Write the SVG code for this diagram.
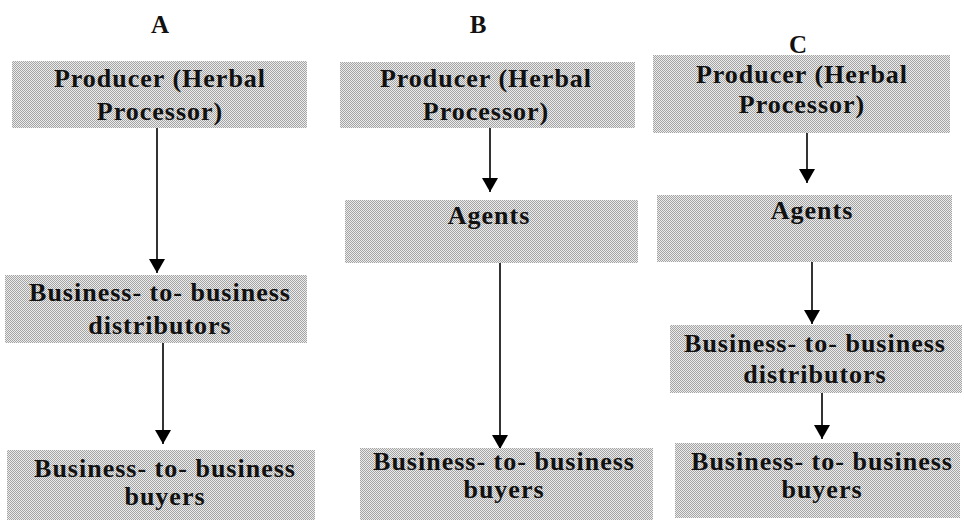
<svg xmlns="http://www.w3.org/2000/svg" width="964" height="523" viewBox="0 0 964 523">
  <defs>
    <!-- halftone grey fill used by every box -->
    <pattern id="dots" x="0" y="0" width="2" height="2" patternUnits="userSpaceOnUse">
      <rect width="2" height="2" fill="#ececec" shape-rendering="crispEdges"/>
      <rect x="0" y="0" width="1" height="1" fill="#a4a4a4" shape-rendering="crispEdges"/>
      <rect x="1" y="1" width="1" height="1" fill="#a4a4a4" shape-rendering="crispEdges"/>
    </pattern>
    <marker id="arrow" markerUnits="userSpaceOnUse" markerWidth="15" markerHeight="16" refX="14" refY="8" orient="auto" viewBox="0 0 15 16">
      <path d="M0,0 L14,8 L0,16 Z" fill="#000"/>
    </marker>
  </defs>
  <style>
    .box { fill: url(#dots); shape-rendering: crispEdges; }
    .lbl { font-family: "Liberation Serif", "DejaVu Serif", "Times New Roman", serif; font-weight: bold; font-size: 26px; letter-spacing: 1px; fill: #111; text-anchor: middle; }
    .ttl { font-family: "Liberation Serif", "DejaVu Serif", "Times New Roman", serif; font-weight: bold; font-size: 25px; fill: #111; text-anchor: middle; }
    .edge { stroke: #000; stroke-width: 1.6; fill: none; }
  </style>
  <rect width="964" height="523" fill="#fff"/>

  <!-- column headings -->
  <g id="titles">
    <text class="ttl" x="160" y="33" font-family="Liberation Serif, serif">A</text>
    <text class="ttl" x="478" y="33" font-family="Liberation Serif, serif">B</text>
    <text class="ttl" x="798" y="53" font-family="Liberation Serif, serif">C</text>
  </g>

  <!-- connectors -->
  <g id="connectors">
    <line class="edge" x1="157" y1="128" x2="157" y2="273" marker-end="url(#arrow)"/>
    <line class="edge" x1="163" y1="343" x2="163" y2="444" marker-end="url(#arrow)"/>
    <line class="edge" x1="490" y1="128" x2="490" y2="192" marker-end="url(#arrow)"/>
    <line class="edge" x1="500" y1="263" x2="500" y2="449" marker-end="url(#arrow)"/>
    <line class="edge" x1="807" y1="133" x2="807" y2="183" marker-end="url(#arrow)"/>
    <line class="edge" x1="812" y1="262" x2="812" y2="324" marker-end="url(#arrow)"/>
    <line class="edge" x1="822" y1="393" x2="822" y2="439" marker-end="url(#arrow)"/>
  </g>

  <!-- column A -->
  <g id="a-producer">
    <rect class="box" x="12" y="61" width="295" height="67"/>
    <text class="lbl" x="160" y="87">Producer (Herbal</text>
    <text class="lbl" x="160" y="120">Processor)</text>
  </g>
  <g id="a-distributors">
    <rect class="box" x="5" y="275" width="302" height="68"/>
    <text class="lbl" x="160" y="301">Business- to- business</text>
    <text class="lbl" x="160" y="334">distributors</text>
  </g>
  <g id="a-buyers">
    <rect class="box" x="7" y="450" width="308" height="70"/>
    <text class="lbl" x="165" y="477">Business- to- business</text>
    <text class="lbl" x="165" y="505">buyers</text>
  </g>

  <!-- column B -->
  <g id="b-producer">
    <rect class="box" x="340" y="62" width="295" height="66"/>
    <text class="lbl" x="486" y="87">Producer (Herbal</text>
    <text class="lbl" x="486" y="120">Processor)</text>
  </g>
  <g id="b-agents">
    <rect class="box" x="345" y="200" width="293" height="63"/>
    <text class="lbl" x="489" y="224">Agents</text>
  </g>
  <g id="b-buyers">
    <rect class="box" x="360" y="448" width="293" height="72"/>
    <text class="lbl" x="504" y="470">Business- to- business</text>
    <text class="lbl" x="504" y="498">buyers</text>
  </g>

  <!-- column C -->
  <g id="c-producer">
    <rect class="box" x="653" y="55" width="297" height="78"/>
    <text class="lbl" x="802" y="83">Producer (Herbal</text>
    <text class="lbl" x="802" y="113">Processor)</text>
  </g>
  <g id="c-agents">
    <rect class="box" x="657" y="195" width="295" height="67"/>
    <text class="lbl" x="812" y="219">Agents</text>
  </g>
  <g id="c-distributors">
    <rect class="box" x="670" y="325" width="292" height="68"/>
    <text class="lbl" x="815" y="352">Business- to- business</text>
    <text class="lbl" x="815" y="383">distributors</text>
  </g>
  <g id="c-buyers">
    <rect class="box" x="675" y="443" width="285" height="75"/>
    <text class="lbl" x="822" y="470">Business- to- business</text>
    <text class="lbl" x="822" y="498">buyers</text>
  </g>
</svg>
